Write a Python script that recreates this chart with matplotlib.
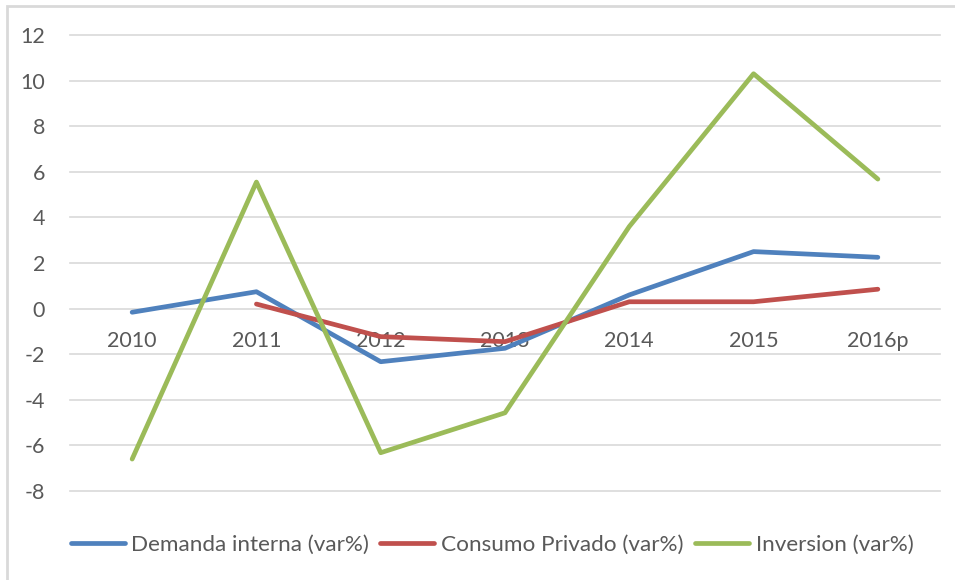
import matplotlib.pyplot as plt
from matplotlib.patches import Rectangle

# Data
years = ["2010", "2011", "2012", "2013", "2014", "2015", "2016p"]
demanda_interna = [-0.16, 0.74, -2.33, -1.74, 0.6, 2.5, 2.25]
consumo_privado = [None, 0.2, -1.23, -1.45, 0.3, 0.3, 0.85]
inversion = [-6.6, 5.55, -6.32, -4.57, 3.6, 10.3, 5.68]

y_ticks = list(range(-8, 13, 2))

plt.rcParams['font.family'] = ['Lato', 'DejaVu Sans']
FS = 15.5

fig = plt.figure(figsize=(9.55, 5.8), dpi=100)
ax = fig.add_axes([70 / 955, 1 - 491 / 580, 870 / 955, 456 / 580])

x = list(range(len(years)))

# consumo has no value for 2010, skip it
cons_x = [i for i, v in zip(x, consumo_privado) if v is not None]
cons_y = [v for v in consumo_privado if v is not None]

ax.plot(x, demanda_interna, color='#4f81bd', linewidth=3.4,
        solid_capstyle='round', label="Demanda interna (var%)", zorder=3)
ax.plot(cons_x, cons_y, color='#c0504d', linewidth=3.4,
        solid_capstyle='round', label="Consumo Privado (var%)", zorder=3)
ax.plot(x, inversion, color='#9bbb59', linewidth=3.4,
        solid_capstyle='round', label="Inversion (var%)", zorder=3)

ax.set_xlim(-0.5, len(years) - 0.5)
ax.set_ylim(-8, 12)
ax.set_yticks(y_ticks)
ax.set_yticklabels([str(t) for t in y_ticks])
ax.set_xticks(x)
ax.set_xticklabels(years)

ax.grid(axis='y', color='#d9d9d9', linewidth=1.2, zorder=0)
for gl in ax.get_ygridlines():
    gl.set_clip_on(False)
ax.set_axisbelow(True)

# category labels sit just under the zero line
ax.spines['bottom'].set_position(('data', 0))
for s in ax.spines.values():
    s.set_visible(False)

ax.tick_params(axis='x', length=0, pad=16, labelsize=FS, labelcolor='#595959')
ax.tick_params(axis='y', length=0, pad=18, labelsize=FS, labelcolor='#595959')

leg = fig.legend(loc='center', bbox_to_anchor=(492 / 955, 1 - 545 / 580), ncol=3,
                 frameon=False, fontsize=16.2, handlelength=2.4,
                 handletextpad=0.3, columnspacing=0.5)
for t in leg.get_texts():
    t.set_color('#595959')

# outer chart border
fig.patches.append(Rectangle((7 / 955, -0.1), 2, 1 - 6 / 580 + 0.1,
                             transform=fig.transFigure, fill=False,
                             edgecolor='#d9d9d9', linewidth=2))

fig.savefig("out.png", dpi=100)
